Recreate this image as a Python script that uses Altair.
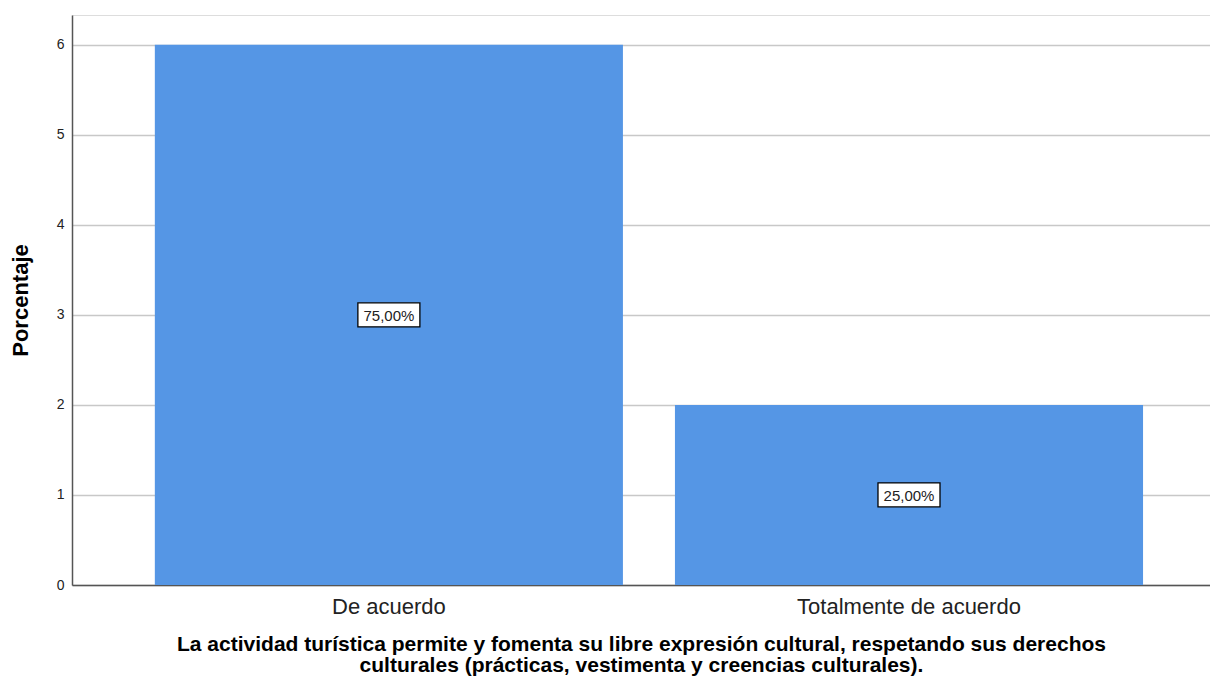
import altair as alt
import pandas as pd

categories = ["De acuerdo", "Totalmente de acuerdo"]
values = [6, 2]
labels = ["75,00%", "25,00%"]

df = pd.DataFrame({"cat": categories, "val": values, "lab": labels})
df["mid"] = df["val"] / 2

FONT = "Liberation Sans"

x = alt.X(
    "cat:N",
    sort=categories,
    scale=alt.Scale(paddingInner=0.1, paddingOuter=0.144, align=0.553),
    axis=alt.Axis(
        title=["La actividad turística permite y fomenta su libre expresión cultural, respetando sus derechos",
               "culturales (prácticas, vestimenta y creencias culturales)."],
        labelAngle=0,
        labelFont=FONT,
        labelFontSize=22,
        labelColor="#222222",
        labelPadding=11,
        labelLimit=0,
        ticks=False,
        domainColor="#555555",
        domainWidth=1.5,
        titleFont=FONT,
        titleFontSize=21,
        titleFontWeight="bold",
        titleColor="#000000",
        titlePadding=16,
        titleLineHeight=21,
        grid=False,
    ),
)

bars = alt.Chart(df).mark_bar(color="#5596E5").encode(
    x=x,
    y=alt.Y(
        "val:Q",
        scale=alt.Scale(domain=[0, 6.33], nice=False),
        axis=alt.Axis(
            title="Porcentaje",
            values=[0, 1, 2, 3, 4, 5, 6],
            format="d",
            labelFont=FONT,
            labelFontSize=14,
            labelColor="#222222",
            labelPadding=8,
            ticks=False,
            domainColor="#555555",
            domainWidth=1.5,
            gridColor="#C8C8C8",
            gridWidth=1.5,
            titleFont=FONT,
            titleFontSize=22,
            titleFontWeight="bold",
            titleColor="#000000",
            titlePadding=24,
        ),
    ),
)

boxes = alt.Chart(df).mark_point(
    shape="M-1,-0.387H1V0.387H-1Z",
    size=3844,
    filled=True,
    fill="white",
    stroke="#000000",
    strokeWidth=1.3,
    opacity=1,
).encode(x=alt.X("cat:N", sort=categories), y=alt.Y("mid:Q"))

texts = alt.Chart(df).mark_text(
    font=FONT, fontSize=15, color="#222222", baseline="middle", align="center", dy=1
).encode(x=alt.X("cat:N", sort=categories), y=alt.Y("mid:Q"), text="lab:N")

chart = (
    alt.layer(bars, boxes, texts)
    .properties(
        width=1138,
        height=570,
        autosize=alt.AutoSizeParams(type="none"),
        padding={"left": 64, "top": 7, "right": 0, "bottom": 93},
    )
    .configure_view(stroke=None)
    .configure(background="white")
)

chart.save("out.html", embed_options={"renderer": "svg", "actions": False})
